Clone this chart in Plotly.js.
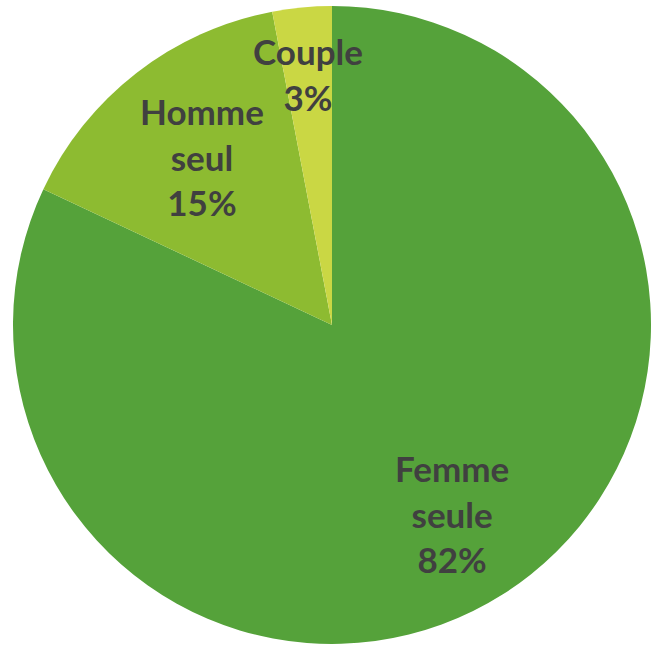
<!DOCTYPE html>
<html>
<head>
<meta charset="utf-8">
<script src="https://cdn.plot.ly/plotly-3.0.1.min.js"></script>
<style>html,body{margin:0;padding:0;background:#fff;}#chart{width:651px;height:645px;}</style>
</head>
<body>
<div id="chart"></div>
<script>
const labels = ["Femme seule", "Homme seul", "Couple"];
const displayLabels = ["Femme<br>seule", "Homme<br>seul", "Couple"];
const values = [82, 15, 3];
const colors = ["#55a23a", "#8dbb31", "#cad744"];
const labelRadius = [0.70, 0.667, 0.79];

const W = 651, H = 645, L = 13, R = 0, T = 5, B = 0;
const pw = W - L - R, ph = H - T - B;
const rad = Math.min(pw, ph) / 2;
const cx = L + pw / 2, cy = T + ph / 2;

const total = values.reduce((a, b) => a + b, 0);
let cum = 0;
const annotations = values.map((v, i) => {
  const mid = (cum + v / 2) / total * 2 * Math.PI;
  cum += v;
  const px = cx + labelRadius[i] * rad * Math.sin(mid);
  const py = cy - labelRadius[i] * rad * Math.cos(mid);
  const pct = Math.round(v / total * 100) + "%";
  return {
    x: (px - L) / pw, y: 1 - (py - T) / ph, xref: "paper", yref: "paper",
    text: "<b>" + displayLabels[i] + "<br>" + pct + "</b>",
    showarrow: false, xanchor: "center", yanchor: "middle",
    font: {family: "Lato, 'Open Sans', sans-serif", size: 35, color: "#404040"}
  };
});

Plotly.newPlot("chart", [{
  type: "pie",
  labels: labels,
  values: values,
  sort: false,
  direction: "clockwise",
  rotation: 0,
  marker: {colors: colors, line: {width: 0}},
  textinfo: "none",
  hoverinfo: "label+percent",
  showlegend: false
}], {
  width: W, height: H,
  margin: {l: L, r: R, t: T, b: B, autoexpand: false},
  paper_bgcolor: "#ffffff",
  showlegend: false,
  annotations: annotations
}, {displayModeBar: false, staticPlot: true});
</script>
</body>
</html>
